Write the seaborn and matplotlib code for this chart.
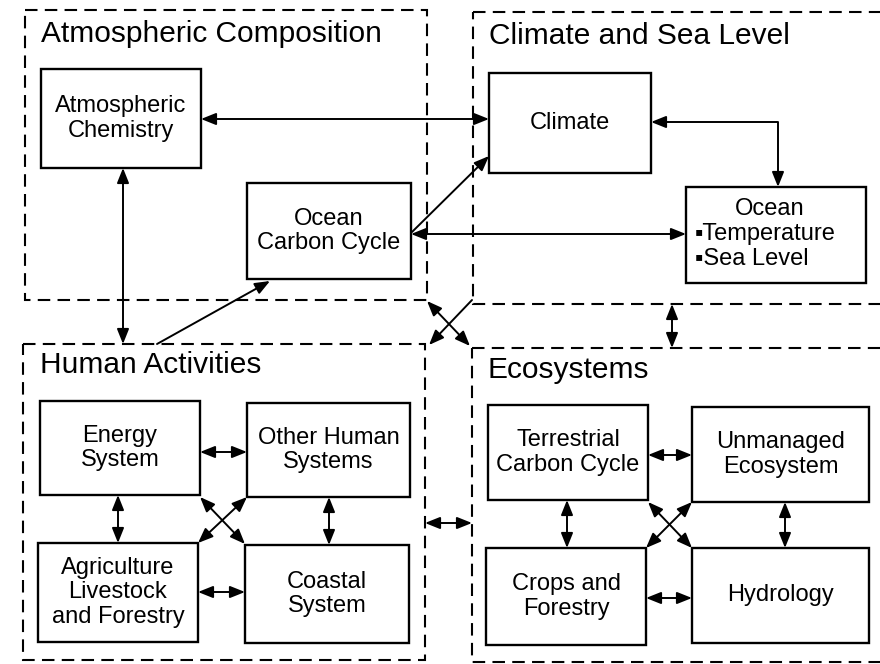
import matplotlib
matplotlib.use('Agg')
from matplotlib import pyplot as plt
from matplotlib.patches import Rectangle
import seaborn as sns

# グループ枠（破線）
group_titles = ['Atmospheric Composition', 'Climate and Sea Level', 'Human Activities', 'Ecosystems']
group_left = [25, 473, 23, 472]
group_top = [10, 12, 344, 348]
group_right = [427, 900, 425, 900]
group_bottom = [300, 304, 660, 662]
title_x = [41, 489, 40, 488]
title_y = [42, 44, 373, 378]

# ボックス
box_labels = ['Atmospheric\nChemistry', 'Ocean\nCarbon Cycle', 'Climate', '',
              'Energy\nSystem', 'Other Human\nSystems',
              'Agriculture\nLivestock\nand Forestry', 'Coastal\nSystem',
              'Terrestrial\nCarbon Cycle', 'Unmanaged\nEcosystem',
              'Crops and\nForestry', 'Hydrology']
box_left = [41, 247, 489, 686, 40, 247, 38, 245, 488, 692, 486, 692]
box_top = [69, 183, 73, 187, 401, 403, 543, 545, 405, 407, 548, 548]
box_right = [201, 411, 651, 866, 200, 410, 198, 409, 648, 869, 646, 869]
box_bottom = [168, 279, 173, 283, 495, 497, 642, 643, 500, 502, 645, 643]

# Ocean ボックスの箇条書き
ocean_lines = ['Ocean', '\u25aaTemperature', '\u25aaSea Level']
ocean_x = [770, 695, 695]
ocean_y = [215, 240, 265]

# 矢印（始点, 終点, 矢じり）
arrow_x1 = [201, 651, 411, 412, 123, 157, 427, 472, 672, 425,
            200, 118, 329, 198, 200, 247,
            648, 567, 785, 646, 648, 692]
arrow_y1 = [119, 122, 234, 232, 168, 344, 301, 300, 304, 523,
            452, 495, 497, 592, 497, 497,
            455, 500, 502, 598, 502, 502]
arrow_x2 = [489, 778, 686, 489, 123, 270, 470, 429, 672, 472,
            247, 118, 329, 245, 245, 198,
            692, 567, 785, 692, 692, 646]
arrow_y2 = [119, 187, 234, 156, 344, 281, 346, 345, 348, 523,
            452, 543, 545, 592, 544, 543,
            455, 548, 548, 598, 548, 548]
arrow_heads = ['both', 'elbow', 'both', 'end', 'both', 'end', 'both', 'end', 'both', 'both',
               'both', 'both', 'both', 'both', 'both', 'both',
               'both', 'both', 'both', 'both', 'both', 'both']

sns.set_theme(style='white')
plt.rcParams['font.family'] = ['Liberation Sans', 'DejaVu Sans']

fig = plt.figure(figsize=(8.8, 6.64), dpi=100)
ax = fig.add_axes([0, 0, 1, 1])
ax.set_xlim(0, 880)
ax.set_ylim(664, 0)
ax.axis('off')

# 破線の枠とタイトル
for i in range(len(group_titles)):
    ax.add_patch(Rectangle((group_left[i], group_top[i]),
                           group_right[i] - group_left[i],
                           group_bottom[i] - group_top[i],
                           fill=False, edgecolor='black', lw=1.5,
                           linestyle=(0, (6, 3.5))))
    ax.text(title_x[i], title_y[i], group_titles[i], fontsize=21.5,
            ha='left', va='baseline', color='black')

# ボックス
for i in range(len(box_labels)):
    ax.add_patch(Rectangle((box_left[i], box_top[i]),
                           box_right[i] - box_left[i],
                           box_bottom[i] - box_top[i],
                           fill=False, edgecolor='black', lw=1.7))
    if box_labels[i]:
        ax.text((box_left[i] + box_right[i]) / 2, (box_top[i] + box_bottom[i]) / 2,
                box_labels[i], fontsize=17, ha='center', va='center',
                linespacing=1.15, color='black')

for i in range(len(ocean_lines)):
    ax.text(ocean_x[i], ocean_y[i], ocean_lines[i], fontsize=17,
            ha='center' if i == 0 else 'left', va='baseline', color='black')

# 矢印
for i in range(len(arrow_heads)):
    style = '-|>' if arrow_heads[i] == 'end' else '<|-|>'
    conn = 'angle,angleA=0,angleB=90,rad=0' if arrow_heads[i] == 'elbow' else 'arc3'
    ax.annotate('', xy=(arrow_x2[i], arrow_y2[i]), xytext=(arrow_x1[i], arrow_y1[i]),
                arrowprops=dict(arrowstyle=style + ',head_length=0.45,head_width=0.18',
                                mutation_scale=20, shrinkA=0, shrinkB=0,
                                lw=1.4, color='black', connectionstyle=conn))

plt.savefig('out.png', dpi=100)
